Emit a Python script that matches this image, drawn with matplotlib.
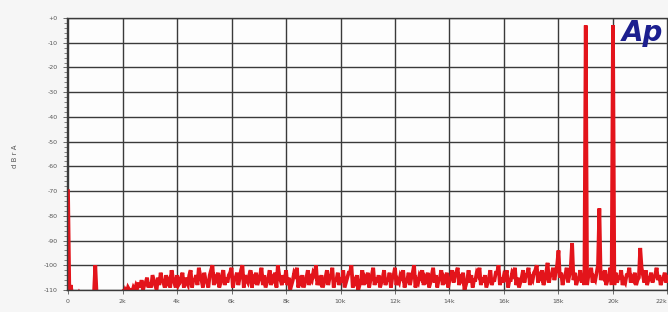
import matplotlib.pyplot as plt
import numpy as np

# FFT spectrum, level in dBr A. levels: bins at 0, 0.1k, 0.2k ...
# levels_mid: the bins in between (0.05k, 0.15k ...)
bin_khz = 0.05
levels = [
    # 0 - 2k
    -70, -108, -112, -112, -111, -112, -112, -112, -112, -112,
    -100, -112, -112, -112, -112, -112, -112, -112, -112, -112,
    # 2k
    -111, -110, -109, -110, -109, -108, -107, -106, -108, -105,
    # 3k
    -107, -104, -108, -105, -103, -107, -104, -106, -102, -107,
    # 4k
    -104, -107, -103, -105, -108, -102, -106, -104, -101, -106,
    # 5k
    -103, -107, -104, -100, -105, -103, -107, -102, -105, -104,
    # 6k
    -101, -106, -103, -105, -100, -104, -107, -102, -105, -103,
    # 7k
    -106, -101, -104, -107, -102, -105, -103, -100, -106, -104,
    # 8k
    -102, -105, -108, -103, -101, -106, -104, -107, -102, -105,
    # 9k
    -103, -100, -106, -104, -107, -102, -105, -101, -106, -103,
    # 10k
    -105, -102, -107, -103, -100, -106, -104, -108, -102, -105,
    # 11k
    -103, -106, -101, -105, -104, -107, -102, -106, -103, -105,
    # 12k
    -101, -106, -104, -102, -107, -103, -105, -100, -106, -104,
    # 13k
    -102, -105, -103, -107, -101, -104, -106, -102, -105, -103,
    # 14k
    -106, -102, -104, -101, -105, -103, -108, -102, -104, -106,
    # 15k
    -103, -101, -105, -104, -107, -102, -106, -103, -100, -105,
    # 16k
    -104, -102, -106, -103, -101, -105, -107, -102, -104, -101,
    # 17k
    -105, -103, -100, -104, -102, -106, -99, -104, -101, -103,
    # 18k
    -94, -103, -105, -101, -104, -91, -103, -106, -102, -104,
    # 19k
    -3, -104, -101, -105, -103, -77, -104, -102, -106, -101,
    # 20k
    -3, -103, -105, -102, -106, -104, -101, -105, -103, -106,
    # 21k
    -93, -104, -102, -106, -103, -105, -101, -104, -106, -103,
    # 22k
    -104, -102, -105,
]
levels_mid = [
    # 0 - 2k
    -112, -112, -112, -112, -112, -112, -112, -112, -112, -112,
    -112, -112, -112, -112, -112, -112, -112, -112, -112, -112,
    # 2k
    -112, -111, -110, -111, -110, -109, -109, -110, -107, -109,
    # 3k
    -109, -106, -110, -108, -106, -109, -107, -109, -105, -109,
    # 4k
    -108, -105, -109, -107, -104, -109, -106, -108, -104, -109,
    # 5k
    -106, -109, -102, -108, -106, -109, -104, -108, -107, -103,
    # 6k
    -109, -105, -108, -102, -109, -106, -104, -109, -106, -108,
    # 7k
    -104, -108, -109, -105, -108, -106, -109, -104, -108, -107,
    # 8k
    -108, -110, -106, -104, -109, -107, -109, -105, -108, -106,
    # 9k
    -104, -108, -107, -109, -105, -108, -104, -109, -106, -108,
    # 10k
    -107, -109, -105, -103, -109, -107, -110, -106, -108, -106,
    # 11k
    -109, -104, -108, -107, -109, -105, -108, -106, -109, -104,
    # 12k
    -108, -107, -105, -109, -106, -108, -103, -109, -107, -105,
    # 13k
    -108, -106, -109, -104, -107, -109, -105, -108, -106, -109,
    # 14k
    -105, -107, -103, -108, -106, -110, -106, -107, -109, -106,
    # 15k
    -104, -108, -107, -109, -105, -108, -106, -103, -108, -107,
    # 16k
    -105, -109, -106, -104, -108, -109, -105, -107, -104, -108,
    # 17k
    -106, -102, -107, -105, -108, -103, -107, -104, -106, -100,
    # 18k
    -105, -108, -104, -107, -101, -106, -108, -105, -107, -108,
    # 19k
    -108, -104, -107, -106, -100, -106, -105, -108, -104, -108,
    # 20k
    -108, -107, -105, -108, -107, -104, -107, -106, -108, -105,
    # 21k
    -101, -107, -108, -105, -107, -104, -106, -108, -105, -107,
    # 22k
    -106, -107,
]

spectrum = np.empty(len(levels) + len(levels_mid))
spectrum[0::2] = levels
spectrum[1::2] = levels_mid
freqs = np.arange(len(spectrum)) * bin_khz

x_ticks = [0, 2, 4, 6, 8, 10, 12, 14, 16, 18, 20, 22]
x_labels = ['0', '2k', '4k', '6k', '8k', '10k', '12k', '14k', '16k', '18k', '20k', '22k']
y_ticks = [0, -10, -20, -30, -40, -50, -60, -70, -80, -90, -100, -110]
y_labels = ['+0'] + [str(v) for v in y_ticks[1:]]

fig = plt.figure(figsize=(6.68, 3.12), dpi=100, facecolor='#f6f6f6')
# axes run past the right edge of the picture (scan is cropped)
ax = fig.add_axes([0.0998, 0.0705, 0.981, 0.8718], facecolor='#fdfdfd')

ax.plot(freqs, spectrum, color='#e3141b', lw=2.7, solid_joinstyle='miter')

ax.set_xlim(-0.05, 24)
ax.set_ylim(-110, 0)
ax.set_xticks(x_ticks)
ax.set_xticklabels(x_labels)
ax.set_yticks(y_ticks)
ax.set_yticklabels(y_labels)
ax.set_yticks(np.arange(-110, 1, 2), minor=True)
ax.tick_params(axis='both', labelsize=4.5, colors='#555555', length=3, width=0.6)
ax.tick_params(axis='y', which='minor', length=2, width=0.5, color='#555555')
ax.get_xticklabels()[-1].set_horizontalalignment('right')
ax.grid(True, color='#3a3a3a', lw=1.0)
ax.set_axisbelow(True)
for s in ax.spines.values():
    s.set_color('#3a3a3a')
    s.set_linewidth(1.0)

fig.text(0.022, 0.50, 'd B r A', rotation=90, fontsize=5, color='#555555',
         ha='center', va='center')
fig.text(0.931, 0.893, 'Ap', fontsize=20, fontweight='bold', style='italic',
         color='#1c1f8f', ha='left', va='center')

fig.savefig('out.png', dpi=100, facecolor=fig.get_facecolor())
